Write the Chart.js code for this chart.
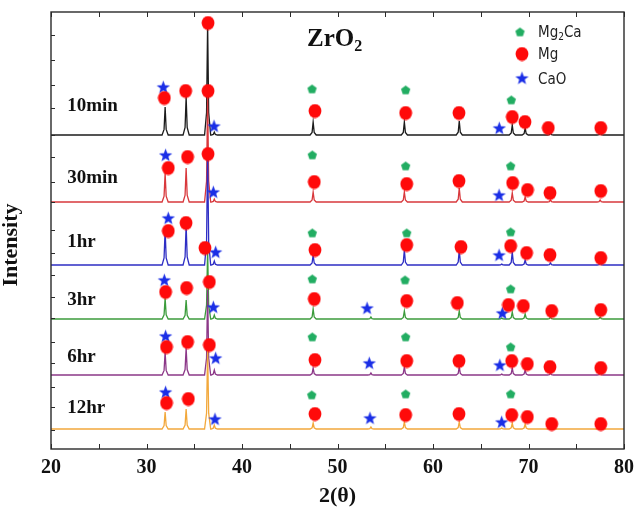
<!DOCTYPE html>
<html><head><meta charset="utf-8">
<script src="https://cdn.jsdelivr.net/npm/chart.js@4.4.0/dist/chart.umd.min.js"></script>
<style>html,body{margin:0;padding:0;background:#fff}#wrap{width:644px;height:522px}</style>
</head><body><div id="wrap"><canvas id="c" width="644" height="522"></canvas></div>
<script>
// ---------------- data ----------------
const seriesNames = ['10min', '30min', '1hr', '3hr', '6hr', '12hr'];
const baselines = [314, 247, 184, 130, 74, 20];            // intensity offset of each pattern
const peakPositions = [31.95, 34.15, 36.4, 37.1, 47.45, 53.5, 57.0, 62.75, 67.2, 68.3, 69.65, 72.3, 77.5];
const peaks10min = [28, 38, 112, 3, 13, 0, 13, 14, 0, 10, 7, 2, 2];
const peaks30min = [29, 34, 105, 3, 10, 0, 10, 14, 0, 9, 5, 2, 2];
const peaks1hr   = [35, 40, 115, 4, 10, 0, 15, 15, 1, 13, 5, 2, 2];
const peaks3hr   = [21, 19, 69, 4, 10, 2, 8, 8, 1, 7, 5, 2, 2];
const peaks6hr   = [23, 27, 85, 5, 7, 2, 8, 8, 1, 7, 5, 2, 2];
const peaks12hr  = [17, 20, 79, 4, 6, 2, 7, 7, 1, 6, 5, 2, 2];

const mg2caMarks = [
  [47.33,360],[57.14,359],[68.2,349],
  [47.36,294],[57.14,283],[68.13,283],
  [47.36,216],[57.25,216],[68.13,217],
  [47.36,170],[57.07,169],[68.13,160],
  [47.36,112],[57.14,112],[68.13,102],
  [47.3,54],[57.14,55],[68.13,55]
];
const mgMarks = [
  [31.87,351],[34.1,358],[36.44,358],[36.44,426],[47.64,338],[57.14,336],[62.72,336],[68.3,332],[69.63,327],[72.07,321],[77.57,321],
  [32.28,281],[34.3,292],[36.44,295],[47.57,267],[57.25,265],[62.72,268],[68.34,266],[69.9,259],[72.25,256],[77.57,258],
  [32.28,218],[34.14,226],[36.12,201],[47.64,199],[57.25,204],[62.93,202],[68.13,203],[69.8,196],[72.25,194],[77.57,191],
  [32.0,157],[34.2,161],[36.58,167],[47.57,150],[57.25,148],[62.55,146],[67.9,144],[69.46,143],[72.43,138],[77.57,139],
  [32.1,102],[34.3,107],[36.58,104],[47.64,89],[57.25,88],[62.72,88],[68.24,88],[69.88,85],[72.25,82],[77.57,81],
  [32.1,46],[34.38,50],[47.64,35],[57.14,34],[62.72,35],[68.24,34],[69.88,32],[72.43,25],[77.57,25]
];
const caoMarks = [
  [31.76,362],[37.07,323],[66.94,321],
  [32.0,294],[37.0,257],[66.92,254],
  [32.28,231],[37.24,197],[66.92,194],
  [31.87,169],[37.0,142],[53.1,141],[67.26,136],
  [32.0,113],[37.24,91],[53.33,86],[67.0,84],
  [32.0,57],[37.17,30],[53.4,31],[67.19,27]
];
const xTickLabels = [20, 30, 40, 50, 60, 70, 80];
const xMinorTicks = [25, 35, 45, 55, 65, 75];
const yTicks = [414, 389, 364, 341, 314, 292, 267, 247, 219, 196, 174, 152, 131, 107, 86, 62, 42, 19];
const labelY = [343, 271, 207, 149, 92, 41];
const legendNames = ['Mg2Ca', 'Mg', 'CaO'];

// ---------------- styles ----------------
const seriesColors = ['#1c1c1c', '#d8383c', '#2e2ec4', '#3c9c3c', '#8c3888', '#f2a83c'];
const PEAK_SHAPE = [[-0.32, 0], [-0.11, 0.2], [0, 1], [0.11, 0.2], [0.32, 0]];
const GREEN = '#22ad62', RED = '#ff0a0a', BLUE = '#1a2ee6';

function mk(w, h, fn) { const c = document.createElement('canvas'); c.width = w; c.height = h; fn(c.getContext('2d'), w / 2, h / 2); return c; }
function polyStar(g, cx, cy, n, ro, ri, rot) {
  g.beginPath();
  const steps = ri ? n * 2 : n;
  for (let i = 0; i < steps; i++) {
    const r = ri ? (i % 2 ? ri : ro) : ro;
    const a = rot + i * Math.PI * 2 / steps;
    const px = cx + r * Math.cos(a), py = cy + r * Math.sin(a);
    i ? g.lineTo(px, py) : g.moveTo(px, py);
  }
  g.closePath(); g.fill();
}
const pentImg = mk(11, 11, (g, cx, cy) => { g.fillStyle = GREEN; polyStar(g, cx, cy + 0.4, 5, 4.9, 0, -Math.PI / 2); });
const starImg = mk(15, 15, (g, cx, cy) => { g.fillStyle = BLUE; polyStar(g, cx, cy + 0.6, 5, 7, 2.9, -Math.PI / 2); });
const circImg = mk(14, 15, (g, cx, cy) => { g.fillStyle = RED; g.beginPath(); g.ellipse(cx, cy, 6.4, 7.0, 0, 0, Math.PI * 2); g.fill(); });

const peakSets = [peaks10min, peaks30min, peaks1hr, peaks3hr, peaks6hr, peaks12hr];
function buildTrace(base, heights) {
  const pts = [{ x: 20, y: base }];
  peakPositions.forEach((p, i) => {
    const h = heights[i];
    if (h > 0) PEAK_SHAPE.forEach(([dx, f]) => pts.push({ x: p + dx, y: base + h * f }));
  });
  pts.push({ x: 80, y: base });
  return pts;
}
const toPts = a => a.map(([x, y]) => ({ x, y }));

const datasets = [
  { data: toPts(mgMarks), pointStyle: circImg, showLine: false, order: 0 },
  { data: toPts(mg2caMarks), pointStyle: pentImg, showLine: false, order: 0 },
  { data: toPts(caoMarks), pointStyle: starImg, showLine: false, order: 0 }
];
seriesNames.forEach((n, i) => datasets.push({
  label: n, data: buildTrace(baselines[i], peakSets[i]), showLine: true,
  borderColor: seriesColors[i], borderWidth: 1.3, pointRadius: 0, tension: 0, order: 10 - i
}));

const SERIF = "'Liberation Serif', 'Times New Roman', serif";
const NARROW = "'Liberation Sans Narrow', 'DejaVu Sans Condensed', 'Liberation Sans', sans-serif";

const deco = {
  id: 'deco',
  afterDatasetsDraw(chart) {
    const { ctx, chartArea: a, scales: { x, y } } = chart;
    ctx.save();
    // frame
    ctx.strokeStyle = '#2a2a2a'; ctx.lineWidth = 1.4;
    ctx.strokeRect(a.left, a.top, a.right - a.left, a.bottom - a.top);
    // inward ticks
    ctx.lineWidth = 1;
    [...xTickLabels, ...xMinorTicks].forEach(v => {
      const px = Math.round(x.getPixelForValue(v)) + 0.5;
      ctx.beginPath(); ctx.moveTo(px, a.bottom); ctx.lineTo(px, a.bottom - 5);
      ctx.moveTo(px, a.top); ctx.lineTo(px, a.top + 5); ctx.stroke();
    });
    yTicks.forEach(v => {
      const py = Math.round(y.getPixelForValue(v)) + 0.5;
      ctx.beginPath(); ctx.moveTo(a.left, py); ctx.lineTo(a.left + 4, py); ctx.stroke();
    });
    // series labels
    ctx.fillStyle = '#111'; ctx.font = 'bold 19px ' + SERIF; ctx.textBaseline = 'middle'; ctx.textAlign = 'left';
    seriesNames.forEach((n, i) => ctx.fillText(n, x.getPixelForValue(21.7), y.getPixelForValue(labelY[i])));
    // ZrO2 heading
    ctx.font = 'bold 25px ' + SERIF; ctx.textBaseline = 'alphabetic';
    const tx = 307, ty = 46;
    ctx.fillText('ZrO', tx, ty);
    const w = ctx.measureText('ZrO').width;
    ctx.font = 'bold 16px ' + SERIF; ctx.fillText('2', tx + w, ty + 5);
    // legend
    ctx.drawImage(pentImg, 520 - 5.5, 32 - 5.5);
    ctx.drawImage(circImg, 522 - 7, 54 - 7.5);
    ctx.drawImage(starImg, 522 - 7.5, 78 - 7.5);
    ctx.fillStyle = '#222'; ctx.textBaseline = 'middle';
    ctx.font = '15px ' + NARROW;
    ctx.fillText('Mg', 538, 33);
    const w2 = ctx.measureText('Mg').width;
    ctx.font = '10px ' + NARROW; ctx.fillText('2', 538 + w2, 37);
    const w3 = ctx.measureText('2').width;
    ctx.font = '15px ' + NARROW; ctx.fillText('Ca', 538 + w2 + w3, 33);
    ctx.fillText(legendNames[1], 538, 55);
    ctx.fillText(legendNames[2], 538, 80);
    // y title
    ctx.translate(11, 245); ctx.rotate(-Math.PI / 2);
    ctx.font = 'bold 22px ' + SERIF; ctx.textAlign = 'center'; ctx.fillStyle = '#111';
    ctx.fillText('Intensity', 0, 0);
    ctx.restore();
  }
};

new Chart(document.getElementById('c'), {
  type: 'scatter',
  data: { datasets },
  options: {
    responsive: false, animation: false, devicePixelRatio: 1,
    layout: { padding: { top: 12, right: 20, left: 0, bottom: 0 } },
    plugins: { legend: { display: false }, tooltip: { enabled: false } },
    scales: {
      x: {
        type: 'linear', min: 20, max: 80,
        afterFit: s => { s.height = 73; },
        afterBuildTicks: s => { s.ticks = xTickLabels.map(v => ({ value: v })); },
        grid: { display: false, drawTicks: false }, border: { display: false },
        ticks: { color: '#111', padding: 7, font: { family: SERIF, size: 20, weight: 'bold' } },
        title: { display: true, text: '2(θ)', color: '#111', padding: { top: 0, bottom: 12 }, font: { family: SERIF, size: 22, weight: 'bold' } }
      },
      y: {
        type: 'linear', min: 0, max: 437,
        afterFit: s => { s.width = 51; },
        grid: { display: false, drawTicks: false }, border: { display: false },
        ticks: { display: false }
      }
    }
  },
  plugins: [deco]
});
</script></body></html>
